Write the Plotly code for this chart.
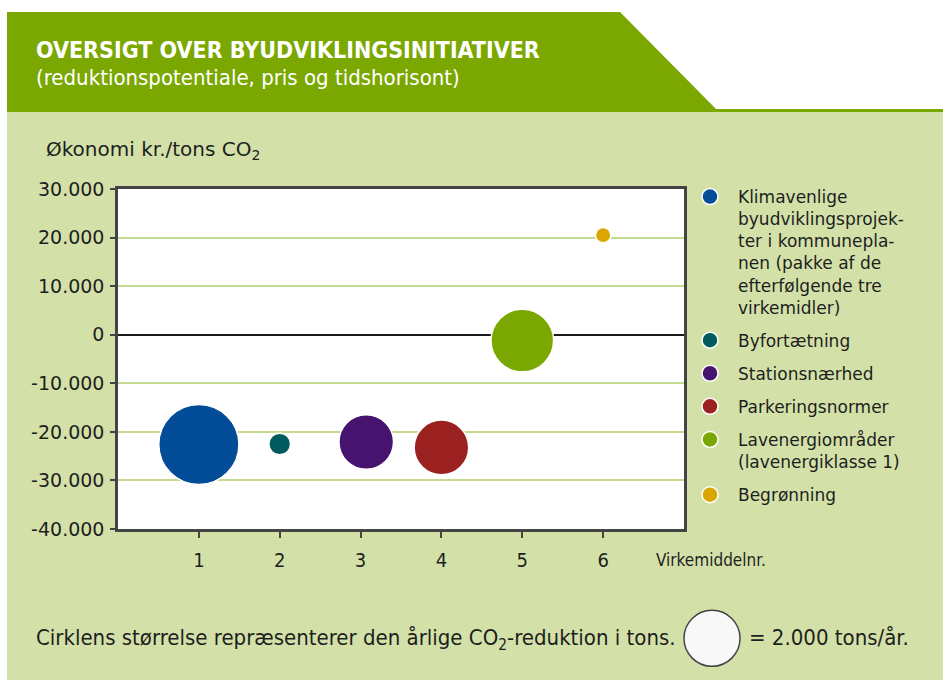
import plotly.graph_objects as go

# ---------------- data ----------------
virkemiddel_nr = [1, 2, 3.07, 4, 5, 6]
names = [
    "Klimavenlige<br>byudviklingsprojek-<br>ter i kommunepla-<br>nen (pakke af de<br>efterfølgende tre<br>virkemidler)",
    "Byfortætning",
    "Stationsnærhed",
    "Parkeringsnormer",
    "Lavenergiområder<br>(lavenergiklasse 1)",
    "Begrønning",
]
economy_kr_per_ton = [-22600, -22500, -22100, -23200, -1200, 20500]
co2_reduction_tons = [4100, 300, 1900, 1900, 2500, 150]
colors = ["#034c97", "#005a5e", "#46146f", "#9b2121", "#7aa800", "#daa600"]

key_tons = 2000

y_tickvals = [-40000, -30000, -20000, -10000, 0, 10000, 20000, 30000]
y_ticktext = ["-40.000", "-30.000", "-20.000", "-10.000", "0", "10.000", "20.000", "30.000"]
x_tickvals = [1, 2, 3, 4, 5, 6]
x_ticktext = ["1", "2", "3", "4", "5", "6"]

# ---------------- layout helpers ----------------
W, H = 943, 683
def fx(px):
    return px / W
def fy(py):
    return 1 - py / H

SIZEREF = 2 * key_tons / 56 ** 2
COND = "DejaVu Sans Condensed, Liberation Sans Narrow, sans-serif"
BODY = "DejaVu Sans, Verdana, sans-serif"
DARK = "#1e1e1e"

fig = go.Figure()

for x, y, s, n, c in zip(virkemiddel_nr, economy_kr_per_ton, co2_reduction_tons, names, colors):
    fig.add_trace(go.Scatter(
        x=[x], y=[y], mode="markers", name=n, legendgroup=n,
        marker=dict(size=[s], sizemode="area", sizeref=SIZEREF, color=c, opacity=1,
                    line=dict(color="white", width=1.5)),
        hoverinfo="name+y",
    ))

# size key
fig.add_trace(go.Scatter(
    x=[0], y=[0], xaxis="x2", yaxis="y2", mode="markers", showlegend=False,
    marker=dict(size=[key_tons], sizemode="area", sizeref=SIZEREF, color="#f8f8f8", opacity=1,
                line=dict(color="#444444", width=1.5)),
    hoverinfo="skip",
))

shapes = [
    # light green panel
    dict(type="rect", xref="paper", yref="paper", x0=fx(7), x1=fx(943), y0=fy(680), y1=fy(112),
         fillcolor="#d3e1a9", line=dict(width=0), layer="below"),
    # header
    dict(type="path", xref="paper", yref="paper",
         path=f"M {fx(7)},{fy(12)} L {fx(620)},{fy(12)} L {fx(716)},{fy(109)} L {fx(943)},{fy(109)} "
              f"L {fx(943)},{fy(112)} L {fx(7)},{fy(112)} Z",
         fillcolor="#7aa800", line=dict(width=0), layer="below"),
    # white plot background
    dict(type="rect", xref="x domain", yref="y domain", x0=0, x1=1, y0=0, y1=1,
         fillcolor="white", line=dict(width=0), layer="below"),
]

annotations = [
    dict(text="OVERSIGT OVER BYUDVIKLINGSINITIATIVER", x=fx(34), y=fy(50), xref="paper", yref="paper",
         xanchor="left", yanchor="middle", showarrow=False,
         font=dict(family=COND, size=23, color="white", weight="bold")),
    dict(text="(reduktionspotentiale, pris og tidshorisont)", x=fx(34), y=fy(78), xref="paper", yref="paper",
         xanchor="left", yanchor="middle", showarrow=False,
         font=dict(family=COND, size=22, color="white")),
    dict(text="Økonomi kr./tons CO<sub>2</sub>", x=fx(44), y=fy(150), xref="paper", yref="paper",
         xanchor="left", yanchor="middle", showarrow=False,
         font=dict(family=BODY, size=20, color=DARK)),
    dict(text="Virkemiddelnr.", x=fx(654), y=fy(560), xref="paper", yref="paper",
         xanchor="left", yanchor="middle", showarrow=False,
         font=dict(family=COND, size=17, color=DARK)),
    dict(text="Cirklens størrelse repræsenterer den årlige CO<sub>2</sub>-reduktion i tons.",
         x=fx(34), y=fy(639), xref="paper", yref="paper",
         xanchor="left", yanchor="middle", showarrow=False,
         font=dict(family=COND, size=22, color=DARK)),
    dict(text="= 2.000 tons/år.", x=fx(747), y=fy(637), xref="paper", yref="paper",
         xanchor="left", yanchor="middle", showarrow=False,
         font=dict(family=COND, size=22, color=DARK)),
]

fig.update_layout(
    width=W, height=H,
    margin=dict(l=0, r=0, t=0, b=0),
    paper_bgcolor="white",
    plot_bgcolor="rgba(0,0,0,0)",
    shapes=shapes,
    annotations=annotations,
    showlegend=True,
    legend=dict(
        x=fx(682), y=fy(179), xanchor="left", yanchor="top",
        bgcolor="rgba(0,0,0,0)", borderwidth=0,
        font=dict(family=BODY, size=17, color=DARK),
        itemsizing="trace", itemwidth=46, valign="top",
        tracegroupgap=8, traceorder="grouped",
    ),
    xaxis=dict(
        domain=[fx(118), fx(684)], range=[0, 7],
        tickvals=x_tickvals, ticktext=x_ticktext,
        showgrid=False, zeroline=False,
        showline=True, mirror=True, linecolor="#444444", linewidth=2.5,
        ticks="outside", ticklen=6, tickwidth=2, tickcolor="#444444",
        ticklabelstandoff=5,
        tickfont=dict(family=COND, size=20, color=DARK),
        automargin=False, fixedrange=True,
    ),
    yaxis=dict(
        domain=[fy(529), fy(189)], range=[-40000, 30000],
        tickvals=y_tickvals, ticktext=y_ticktext,
        showgrid=True, gridcolor="#c5db8f", gridwidth=2,
        zeroline=True, zerolinecolor="#1a1a1a", zerolinewidth=2,
        showline=True, mirror=True, linecolor="#444444", linewidth=2.5,
        ticks="outside", ticklen=5, tickwidth=2, tickcolor="#444444",
        ticklabelstandoff=2,
        tickfont=dict(family=BODY, size=19, color=DARK),
        automargin=False, fixedrange=True,
    ),
    xaxis2=dict(domain=[fx(682), fx(742)], range=[-1, 1], visible=False, anchor="y2", fixedrange=True),
    yaxis2=dict(domain=[fy(668.3), fy(608.3)], range=[-1, 1], visible=False, anchor="x2", fixedrange=True),
)

fig.write_html("out.html", config={"displayModeBar": False},
               post_script="document.body.style.margin='0';")
